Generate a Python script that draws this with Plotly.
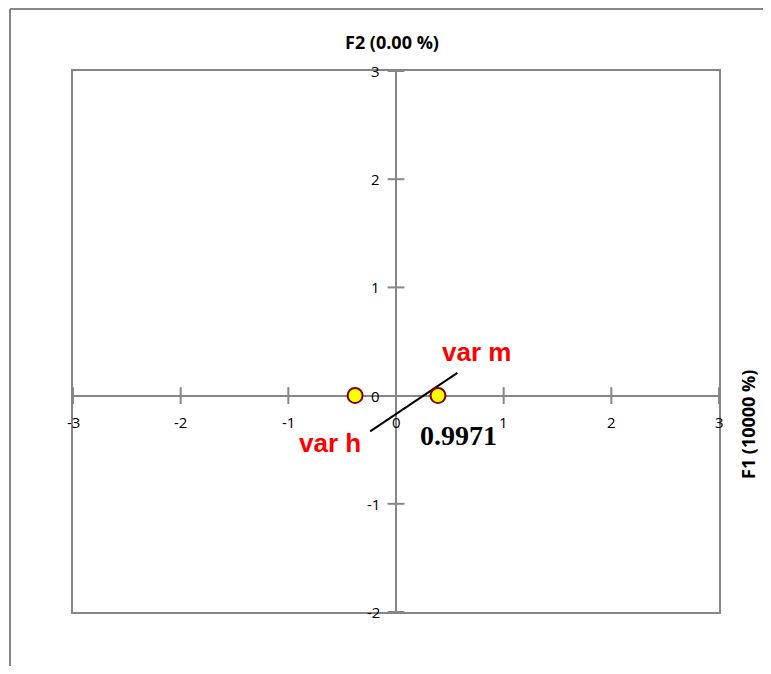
import plotly.graph_objects as go

# Data
var_names = ["var h", "var m"]
f1_values = [-0.38, 0.39]
f2_values = [0.0, 0.0]
line_x = [-0.24, 0.57]
line_y = [-0.33, 0.21]
corr_label = "0.9971"
x_ticks = [-3, -2, -1, 0, 1, 2, 3]
y_ticks = [-2, -1, 0, 1, 2, 3]
x_title = "F2 (0.00 %)"
y_title = "F1 (10000 %)"
label_pos = {"var h": (-0.61, -0.44), "var m": (0.75, 0.40)}
corr_pos = (0.58, -0.37)

GRAY = "#868686"
OFF = 8  # page body margin
W, H = 771 - 2 * OFF, 674 - 2 * OFF
L, T = 73 - OFF, 71 - OFF
pw, ph = 646, 541
R, B = W - L - pw, H - T - ph

def px2paper_x(px):
    return (px - OFF - L) / pw

def px2paper_y(py):
    return (T + ph - (py - OFF)) / ph

fig = go.Figure()

# tick marks crossing the axes
fig.add_trace(go.Scatter(x=[t for t in x_ticks if t != 0], y=[0] * (len(x_ticks) - 1), mode="markers",
                         marker=dict(symbol="line-ns-open", size=12, color=GRAY, line=dict(color=GRAY, width=2)),
                         hoverinfo="skip", showlegend=False, cliponaxis=False))
fig.add_trace(go.Scatter(x=[0] * (len(y_ticks) - 1), y=[t for t in y_ticks if t != 0], mode="markers",
                         marker=dict(symbol="line-ew-open", size=12, color=GRAY, line=dict(color=GRAY, width=2)),
                         hoverinfo="skip", showlegend=False, cliponaxis=False))

# black line
fig.add_trace(go.Scatter(x=line_x, y=line_y, mode="lines", line=dict(color="black", width=2),
                         showlegend=False, hoverinfo="skip"))

# points
fig.add_trace(go.Scatter(x=f1_values, y=f2_values, mode="markers",
                         marker=dict(size=15, color="#FFFF00", line=dict(color="#800000", width=2)),
                         showlegend=False, cliponaxis=False))

ann = []
for t in x_ticks:
    ann.append(dict(x=t, y=0, xref="x", yref="y", text=str(t), showarrow=False,
                    xanchor="center", yanchor="middle",
                    yshift=-26, font=dict(family="Open Sans", size=15, color="black")))
for t in y_ticks:
    ann.append(dict(x=0, y=t, xref="x", yref="y", text=str(t), showarrow=False,
                    xanchor="right", yanchor="middle", xshift=-14,
                    font=dict(family="Open Sans", size=15, color="black")))
for n in var_names:
    px_, py_ = label_pos[n]
    ann.append(dict(x=px_, y=py_, xref="x", yref="y", text="<b>%s</b>" % n, showarrow=False,
                    xanchor="center", yanchor="middle",
                    font=dict(family="Liberation Sans", size=26, color="#FF0000")))
ann.append(dict(x=corr_pos[0], y=corr_pos[1], xref="x", yref="y", text="<b>%s</b>" % corr_label,
                showarrow=False, xanchor="center", yanchor="middle",
                font=dict(family="Liberation Serif", size=28, color="black")))
ann.append(dict(x=px2paper_x(392), y=px2paper_y(42), xref="paper", yref="paper", text="<b>%s</b>" % x_title,
                showarrow=False, xanchor="center", yanchor="middle",
                font=dict(family="Open Sans", size=18, color="black")))
ann.append(dict(x=px2paper_x(748), y=px2paper_y(425), xref="paper", yref="paper", text="<b>%s</b>" % y_title,
                showarrow=False, textangle=-90, xanchor="center", yanchor="middle",
                font=dict(family="Open Sans", size=18, color="black")))

shapes = [
    dict(type="line", xref="paper", yref="paper", x0=px2paper_x(10), x1=px2paper_x(10),
         y0=px2paper_y(9), y1=px2paper_y(700), line=dict(color=GRAY, width=2)),
    dict(type="line", xref="paper", yref="paper", x0=px2paper_x(10), x1=px2paper_x(800),
         y0=px2paper_y(9), y1=px2paper_y(9), line=dict(color=GRAY, width=2)),
]

fig.update_layout(
    width=W, height=H, margin=dict(l=L, r=R, t=T, b=B, pad=0),
    paper_bgcolor="white", plot_bgcolor="white",
    annotations=ann, shapes=shapes,
    xaxis=dict(range=[-3, 3], showgrid=False, showticklabels=False, ticks="",
               zeroline=True, zerolinecolor=GRAY, zerolinewidth=2,
               showline=True, mirror=True, linecolor=GRAY, linewidth=2, fixedrange=True),
    yaxis=dict(range=[-2, 3], showgrid=False, showticklabels=False, ticks="",
               zeroline=True, zerolinecolor=GRAY, zerolinewidth=2,
               showline=True, mirror=True, linecolor=GRAY, linewidth=2, fixedrange=True),
)

fig.write_html("out.html")
